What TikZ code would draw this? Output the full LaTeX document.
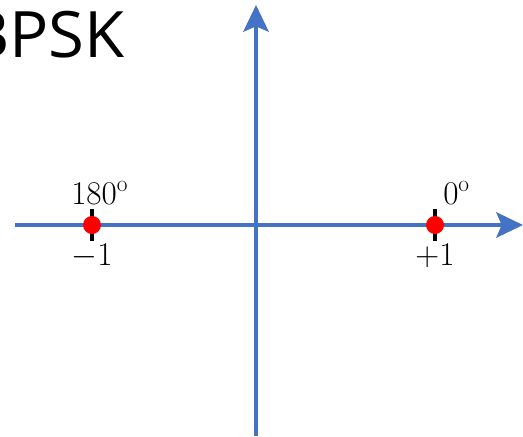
\documentclass[tikz,border=0pt]{standalone}
\usepackage{fontspec}
\newfontfamily\titlefont{Open Sans}[FakeStretch=1.02]
\usetikzlibrary{arrows.meta}
\definecolor{axisblue}{RGB}{68,114,196}
\definecolor{dotred}{RGB}{255,0,0}

\begin{document}
\begin{tikzpicture}[x=0.75pt,y=0.75pt,yscale=-1,xscale=1,
  axisline/.style={draw=axisblue,line width=3pt,-{Stealth[length=20pt,width=19pt,inset=4pt]}},
  symtick/.style={draw=black,line width=3pt},
  symdot/.style={circle,fill=dotred,inner sep=0pt,minimum size=13.5pt},
  lbl/.style={inner sep=0.75pt,font=\fontsize{25}{30}\selectfont}]
\useasboundingbox (0,0) rectangle (523,436);
\clip (0,0) rectangle (523,436);

% Title
\node (title) [anchor=base west,inner sep=0pt,font=\titlefont\fontsize{48}{54}\selectfont] at (-33,57) {BPSK};

% Axes
\coordinate (xstart) at (15,225);
\coordinate (xend) at (523,225);
\coordinate (ystart) at (256,436);
\coordinate (yend) at (256,5);
\draw [axisline] (xstart) -- (xend);
\draw [axisline] (ystart) -- (yend);

% Ticks
\coordinate (pm) at (92,225);
\coordinate (pp) at (435,225);
\draw [symtick] ([yshift=-12]pm) -- ([yshift=12]pm);
\draw [symtick] ([yshift=-12]pp) -- ([yshift=12]pp);

% Constellation points
\node (sm) [symdot] at (pm) {};
\node (sp) [symdot] at (pp) {};

% Text Node
\node (angm) [lbl,anchor=base west] at (70,204) {$180^{\mathrm{o}}$};
% Text Node
\node (angp) [lbl,anchor=base west] at (442,204) {$0^{\mathrm{o}}$};
% Text Node
\node (valm) [lbl,anchor=north] at (92,243) {$-1$};
% Text Node
\node (valp) [lbl,anchor=north] at (435,243) {$+1$};

\end{tikzpicture}
\end{document}
